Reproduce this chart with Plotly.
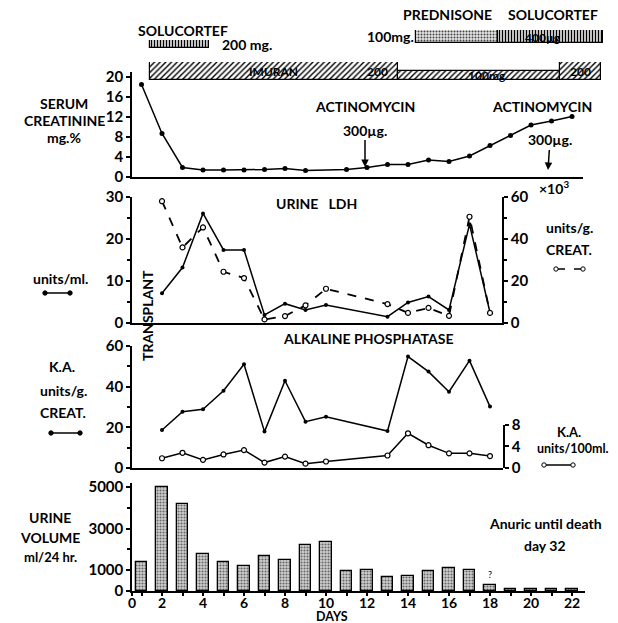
import plotly.graph_objects as go

# ---------------- data ----------------
creat_days = [1, 2, 3, 4, 5, 6, 7, 8, 9, 11, 12, 13, 14, 15, 16, 17, 18, 19, 20, 21, 22]
creat_vals = [18.5, 8.7, 1.9, 1.4, 1.4, 1.4, 1.5, 1.7, 1.3, 1.5, 1.9, 2.5, 2.5, 3.4, 3.1, 4.2, 6.3, 8.3, 10.4, 11.2, 12.1]

ldh_days = [2, 3, 4, 5, 6, 7, 8, 9, 10, 13, 14, 15, 16, 17, 18]
ldh_units_ml = [7.1, 13.2, 26.1, 17.4, 17.4, 1.9, 4.6, 3.1, 4.3, 1.5, 4.9, 6.3, 3.1, 23.5, 2.5]
ldh_units_g_creat = [58, 36, 45.5, 24.4, 21.4, 1.7, 3.3, 8.4, 16.3, 9.0, 4.8, 7.2, 3.4, 50.6, 4.8]

alk_days = [2, 3, 4, 5, 6, 7, 8, 9, 10, 13, 14, 15, 16, 17, 18]
alk_units_g_creat = [18.7, 27.7, 28.9, 38.0, 51.0, 17.9, 42.9, 22.8, 25.2, 18.2, 54.8, 47.4, 37.5, 52.8, 30.2]
alk_units_100ml = [1.8, 2.8, 1.5, 2.5, 3.3, 1.0, 2.1, 0.8, 1.2, 2.3, 6.4, 4.2, 2.7, 2.7, 2.2]

urine_days = list(range(1, 23))
urine_volume = [1400, 5000, 4200, 1800, 1400, 1200, 1700, 1500, 2200, 2350, 950, 1000,
                650, 700, 950, 1100, 1000, 300, 100, 100, 100, 100]

imuran_start = [1.4, 13.5, 21.4]
imuran_end = [13.5, 21.4, 23.4]
imuran_dose = [200, 100, 200]
solu1_start, solu1_end = [1.4], [4.3]
pred_start, pred_end = [14.4], [18.4]
solu2_start, solu2_end = [18.4], [23.5]

day_ticks = ["0", "2", "4", "6", "8", "10", "12", "14", "16", "18", "20", "22"]

# ---------------- layout helpers ----------------
W, H = 618, 623
X0, S = 121.0, 20.5  # pixel of day 0, pixels per day
FONT = "Lato"


def dr(p0, p1):
    return [(p0 - X0) / S, (p1 - X0) / S]


def dx(p0, p1):
    return [p0 / W, min(p1 / W, 1.0)]


def dy(pb, pt):
    return [1 - pb / H, 1 - pt / H]


def px(p):
    return p / W


def py(p):
    return 1 - p / H


LINE = dict(color="black", width=1.5)
fig = go.Figure()

# creatinine
fig.add_trace(go.Scatter(x=creat_days, y=creat_vals, mode="lines+markers", line=LINE,
                         marker=dict(size=5, color="black"), xaxis="x", yaxis="y"))
# LDH
fig.add_trace(go.Scatter(x=ldh_days, y=ldh_units_ml, mode="lines+markers", line=LINE,
                         marker=dict(size=4, color="black"), xaxis="x2", yaxis="y2"))
fig.add_trace(go.Scatter(x=ldh_days, y=ldh_units_g_creat, mode="lines+markers",
                         line=dict(color="black", width=1.8, dash="dash"),
                         marker=dict(size=5, color="white", line=dict(color="black", width=1.2)),
                         xaxis="x2", yaxis="y3"))
# alkaline phosphatase
fig.add_trace(go.Scatter(x=alk_days, y=alk_units_g_creat, mode="lines+markers", line=LINE,
                         marker=dict(size=4, color="black"), xaxis="x3", yaxis="y4"))
fig.add_trace(go.Scatter(x=alk_days, y=alk_units_100ml, mode="lines+markers", line=LINE,
                         marker=dict(size=5, color="white", line=dict(color="black", width=1.2)),
                         xaxis="x3", yaxis="y5", cliponaxis=False))
# urine volume
fig.add_trace(go.Bar(x=urine_days, y=urine_volume, width=0.57, xaxis="x4", yaxis="y6",
                     marker=dict(color="#bdbdbd", line=dict(color="black", width=1.3),
                                 pattern=dict(shape=".", fgcolor="#666", bgcolor="#d0d0d0",
                                              size=3, solidity=0.4))))


def seg(starts, ends):
    return [(a + b) / 2 for a, b in zip(starts, ends)], [b - a for a, b in zip(starts, ends)]


mx, wd = seg(imuran_start, imuran_end)
fig.add_trace(go.Bar(x=mx, y=imuran_dose, width=wd, xaxis="x5", yaxis="y7",
                     marker=dict(color="white", line=dict(color="black", width=1.2),
                                 pattern=dict(shape="/", fgcolor="black", bgcolor="white",
                                              size=4, solidity=0.35))))
mx, wd = seg(solu1_start, solu1_end)
fig.add_trace(go.Bar(x=mx, y=[1], width=wd, xaxis="x5", yaxis="y8",
                     marker=dict(color="white", line=dict(color="black", width=1.2),
                                 pattern=dict(shape="|", fgcolor="black", bgcolor="white",
                                              size=3, solidity=0.5))))
mx, wd = seg(pred_start, pred_end)
fig.add_trace(go.Bar(x=mx, y=[1], width=wd, xaxis="x5", yaxis="y9",
                     marker=dict(color="white", line=dict(color="black", width=1.2),
                                 pattern=dict(shape=".", fgcolor="#444", bgcolor="#e6e6e6",
                                              size=3, solidity=0.35))))
mx, wd = seg(solu2_start, solu2_end)
fig.add_trace(go.Bar(x=mx, y=[1], width=wd, xaxis="x5", yaxis="y9",
                     marker=dict(color="white", line=dict(color="black", width=1.2),
                                 pattern=dict(shape="|", fgcolor="black", bgcolor="white",
                                              size=3, solidity=0.5))))

TICKF = dict(family=FONT, size=15, color="black", weight="bold")
ax_common = dict(showgrid=False, zeroline=False, showline=True, linecolor="black", linewidth=1.5,
                 tickfont=TICKF, ticks="outside", ticklen=4, tickwidth=1.5, tickcolor="black",
                 automargin=False)
ax_noticks = {k: v for k, v in ax_common.items() if k != "ticks"}
ax_bottom = {k: v for k, v in ax_common.items() if k not in ("tickfont", "ticklen")}
hidden = dict(visible=False, showgrid=False, zeroline=False, automargin=False)

x_first = dr(132, 585)[0]
fig.update_layout(
    template="none",
    width=W, height=H, margin=dict(l=0, r=0, t=0, b=0, pad=0, autoexpand=False),
    paper_bgcolor="white", plot_bgcolor="rgba(0,0,0,0)", showlegend=False, bargap=0,
    xaxis=dict(domain=dx(132, 583), range=dr(132, 583), anchor="y", showticklabels=False,
               ticks="", **ax_noticks),
    yaxis=dict(domain=dy(177, 72), range=[0, 21], anchor="x", tickvals=[0, 4, 8, 12, 16, 20], **ax_common),
    xaxis2=dict(domain=dx(132, 502), range=dr(132, 502), anchor="y2", showticklabels=False,
                ticks="", **ax_noticks),
    yaxis2=dict(domain=dy(323, 197), range=[0, 30], anchor="x2", tickvals=[0, 10, 20, 30],
                minor=dict(dtick=5, ticks="outside", ticklen=3, tickcolor="black"), **ax_common),
    yaxis3=dict(range=[0, 60], anchor="x2", overlaying="y2", side="right", tickvals=[0, 20, 40, 60],
                minor=dict(dtick=10, ticks="outside", ticklen=3, tickcolor="black"), **ax_common),
    xaxis3=dict(domain=dx(132, 503), range=dr(132, 503), anchor="y4", showticklabels=False,
                ticks="", **ax_noticks),
    yaxis4=dict(domain=dy(468, 346), range=[0, 60], anchor="x3", tickvals=[0, 20, 40, 60],
                minor=dict(dtick=10, ticks="outside", ticklen=3, tickcolor="black"), **ax_common),
    yaxis5=dict(domain=dy(468, 424.6), range=[0, 8], anchor="x3", side="right", tickvals=[0, 4, 8], **ax_common),
    xaxis4=dict(domain=dx(132, 585), range=dr(132, 585), anchor="y6",
                tickvals=[x_first] + list(range(2, 23, 2)), ticktext=day_ticks,
                tickfont=dict(family=FONT, size=14, color="black", weight="bold"),
                ticklen=3, ticklabelstandoff=-5,
                minor=dict(dtick=1, ticks="outside", ticklen=3, tickcolor="black"), **ax_bottom),
    yaxis6=dict(domain=dy(591, 483), range=[0, 5190], anchor="x4", tickvals=[0, 1000, 3000, 5000],
                minor=dict(dtick=1000, ticks="outside", ticklen=3, tickcolor="black"), **ax_common),
    xaxis5=dict(domain=dx(132, 618), range=dr(132, 618), anchor="y7", **hidden),
    yaxis7=dict(domain=dy(80, 62), range=[0, 200], anchor="x5", **hidden),
    yaxis8=dict(domain=dy(48, 40), range=[0, 1], anchor="x5", **hidden),
    yaxis9=dict(domain=dy(43, 30), range=[0, 1], anchor="x5", **hidden),
)

ann = []


def txt(x, y, t, size=14, angle=0, xanchor="center"):
    ann.append(dict(x=px(x), y=py(y), xref="paper", yref="paper", text=t, showarrow=False,
                    textangle=angle, xanchor=xanchor, yanchor="middle",
                    font=dict(family=FONT, size=size, color="black", weight="bold")))


# drug labels
txt(183, 31, "SOLUCORTEF")
txt(247, 44, "200 mg.", 14)
txt(447, 14, "PREDNISONE")
txt(553, 14, "SOLUCORTEF")
txt(390, 36, "100mg.", 14)
txt(273, 71, "IMURAN", 12)
txt(377, 71, "200", 12)
txt(487, 75, "100mg", 12)
txt(580, 71, "200", 12)
txt(543, 37, "400µg", 12)

# left labels
txt(64, 103, "SERUM")
txt(64, 120, "CREATININE")
txt(64, 137, "mg.%")
txt(61, 278, "units/ml.", 14)
txt(62, 367, "K.A.")
txt(63, 390, "units/g.")
txt(63, 413, "CREAT.")
txt(50, 517, "URINE")
txt(50, 537, "VOLUME")
txt(50, 557, "ml/24 hr.", 13)

# right labels
txt(554, 187, "×10<sup>3</sup>", 14)
txt(569, 228, "units/g.")
txt(569, 249, "CREAT.")
txt(569, 432, "K.A.", 13)
txt(573, 448, "units/100ml.", 12.5)

# titles
txt(316, 203, "URINE   LDH")
txt(368, 338, "ALKALINE PHOSPHATASE")
txt(147, 316, "TRANSPLANT", 14, angle=-90)
txt(332, 616.5, "DAYS", 12.5)
txt(545, 523, "Anuric until death")
txt(545, 545, "day 32")
txt(365, 107, "ACTINOMYCIN")
txt(542, 107, "ACTINOMYCIN")

# arrows
for (tx, ty, hx, hy) in [(365, 130, 365, 167), (550, 140, 548, 170)]:
    ann.append(dict(x=px(hx), y=py(hy), xref="paper", yref="paper", ax=tx - hx, ay=ty - hy,
                    axref="pixel", ayref="pixel", text="300µg.", showarrow=True,
                    arrowhead=2, arrowsize=1, arrowwidth=1.5, arrowcolor="black",
                    font=dict(family=FONT, size=14, color="black", weight="bold")))

ann.append(dict(x=18, y=420, xref="x4", yref="y6", text="?", showarrow=False, yanchor="bottom",
                font=dict(family=FONT, size=9, color="black")))
fig.update_layout(annotations=ann)

# legend keys
shapes = []


def key(x0, x1, y, dash, openc):
    shapes.append(dict(type="line", xref="paper", yref="paper", x0=px(x0), x1=px(x1), y0=py(y), y1=py(y),
                       line=dict(color="black", width=1.5, dash=dash)))
    for cx in (x0, x1):
        shapes.append(dict(type="circle", xref="paper", yref="paper", x0=px(cx - 2.2), x1=px(cx + 2.2),
                           y0=py(y + 2.2), y1=py(y - 2.2), line=dict(color="black", width=1),
                           fillcolor="white" if openc else "black"))


key(45, 70, 293, "solid", False)
key(556, 583, 269, "dash", True)
key(51, 80, 433, "solid", False)
key(544, 573, 465, "solid", True)
fig.update_layout(shapes=shapes)

post = ("document.documentElement.style.overflow='hidden';"
        "document.body.style.margin='0px';document.body.style.overflow='hidden';"
        "var d=document.getElementById('{plot_id}');"
        "d.style.position='fixed';d.style.left='0px';d.style.top='0px';")
fig.write_html("out.html", post_script=post, config={"displayModeBar": False})
